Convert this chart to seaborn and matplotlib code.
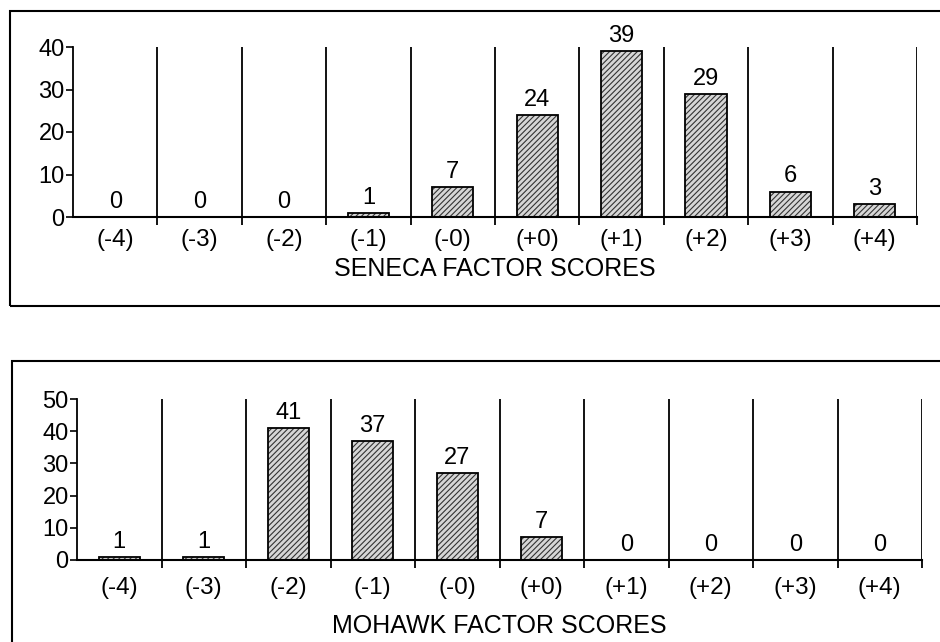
import numpy as np
import matplotlib
matplotlib.use('Agg')
import matplotlib.pyplot as plt
import seaborn as sns
from matplotlib.patches import Rectangle

# data
scores = ['(-4)', '(-3)', '(-2)', '(-1)', '(-0)', '(+0)', '(+1)', '(+2)', '(+3)', '(+4)']
seneca_counts = [0, 0, 0, 1, 7, 24, 39, 29, 6, 3]
mohawk_counts = [1, 1, 41, 37, 27, 7, 0, 0, 0, 0]
seneca_ticks = [0, 10, 20, 30, 40]
mohawk_ticks = [0, 10, 20, 30, 40, 50]

sns.set_theme(style='ticks')
plt.rcParams['font.family'] = ['Liberation Sans', 'DejaVu Sans']
plt.rcParams['axes.edgecolor'] = 'black'
plt.rcParams['xtick.color'] = 'black'
plt.rcParams['ytick.color'] = 'black'
plt.rcParams['text.color'] = 'black'
plt.rcParams['axes.labelcolor'] = 'black'
plt.rcParams['hatch.linewidth'] = 0.8

W, H = 940, 642
fig = plt.figure(figsize=(W / 100, H / 100), dpi=100)
fig.patch.set_facecolor('white')


def px_axes(left, right, top, bottom):
    return fig.add_axes([left / W, 1 - bottom / H, (right - left) / W, (bottom - top) / H])


def draw_panel(ax, counts, yticks, label, tick_pad, label_pad):
    # hatched fill first, then black outline on top
    sns.barplot(x=scores, y=counts, ax=ax, color='#d6d6d6', edgecolor='#333333',
                hatch='//////', linewidth=0, width=0.49)
    sns.barplot(x=scores, y=counts, ax=ax, fill=False, color='black',
                linewidth=1.3, width=0.49)
    ymax = yticks[-1]
    ax.set_ylim(0, ymax)
    ax.set_xlim(-0.5, len(scores) - 0.5)

    # separators between score classes
    bounds = np.arange(0.5, len(scores), 1.0)
    ax.vlines(bounds, 0, ymax, color='black', lw=1.3)
    ax.set_xticks(bounds, minor=True)
    ax.tick_params(axis='x', which='minor', length=6, width=1.3, direction='out')
    ax.tick_params(axis='x', which='major', length=0, pad=tick_pad, labelsize=17.5)

    ax.set_yticks(yticks)
    ax.tick_params(axis='y', length=5, width=1.2, pad=1, labelsize=17)

    for s in ['top', 'right']:
        ax.spines[s].set_visible(False)
    ax.spines['left'].set_linewidth(1.3)
    ax.spines['bottom'].set_linewidth(1.5)

    ax.bar_label(ax.containers[0], labels=[str(v) for v in counts],
                 padding=3, fontsize=17)
    ax.set_xlabel(label, fontsize=18, labelpad=label_pad)
    ax.set_ylabel('')
    ax.set_facecolor('none')


ax1 = px_axes(73, 917, 47, 217)
draw_panel(ax1, seneca_counts, seneca_ticks, 'SENECA FACTOR SCORES', 8.5, 4.5)

ax2 = px_axes(77, 922, 399, 560)
draw_panel(ax2, mohawk_counts, mohawk_ticks, 'MOHAWK FACTOR SCORES', 12, 11)

# outer frames of the two boxed figures (cut off at right / bottom in the scan)
fig.add_artist(Rectangle((10 / W, 1 - 306 / H), 960 / W, 295 / H,
                         transform=fig.transFigure, fill=False, lw=1.5, color='black'))
fig.add_artist(Rectangle((12 / W, 1 - 680 / H), 960 / W, 319 / H,
                         transform=fig.transFigure, fill=False, lw=1.5, color='black'))

fig.savefig('out.png', dpi=100, facecolor='white')
